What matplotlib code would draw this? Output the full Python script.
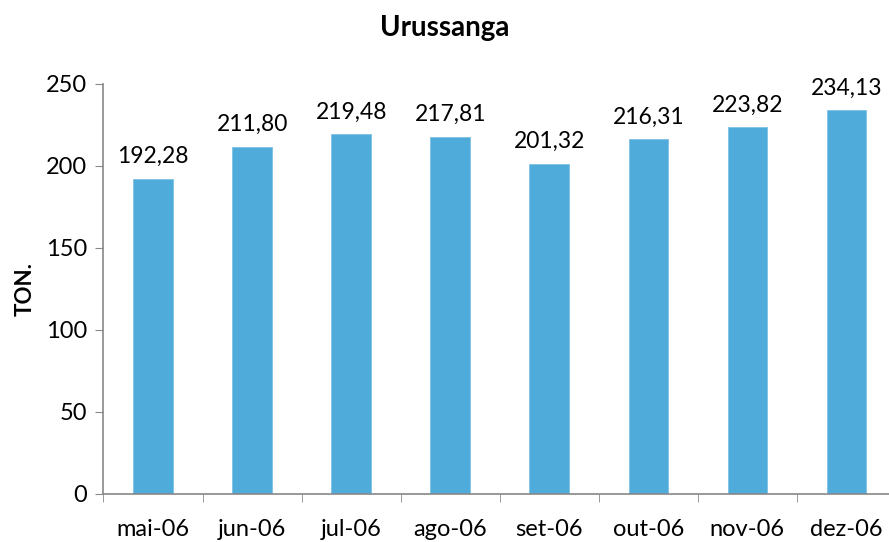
import matplotlib.pyplot as plt
import numpy as np

plt.rcParams['font.family'] = ['Lato', 'DejaVu Sans']

months = ['mai-06', 'jun-06', 'jul-06', 'ago-06', 'set-06', 'out-06', 'nov-06', 'dez-06']
values = [192.28, 211.80, 219.48, 217.81, 201.32, 216.31, 223.82, 234.13]

fig = plt.figure(figsize=(8.89, 5.42), dpi=100)
ax = fig.add_axes([0.1164, 0.0886, 0.8915, 0.7565])

x = np.arange(len(months))
ax.bar(x, values, width=0.4, color='#4FACDA', edgecolor='#7EC3E6', linewidth=0.6, zorder=2)

for xi, v in zip(x, values):
    ax.text(xi, v + 7, f'{v:.2f}'.replace('.', ','), ha='center', va='bottom', fontsize=16.5)

ax.set_xlim(-0.5, len(months) - 0.5)
ax.set_ylim(0, 250)
ax.set_yticks(range(0, 251, 50))
ax.set_xticks(x)
ax.set_xticklabels(months)
ax.set_xticks(np.arange(-0.5, len(months), 1), minor=True)
ax.tick_params(axis='x', which='major', length=0, pad=18, labelsize=17)
ax.tick_params(axis='x', which='minor', length=6, color='#888888', direction='out')
ax.tick_params(axis='y', length=6, color='#888888', labelsize=17, pad=6)

for side in ['top', 'right']:
    ax.spines[side].set_visible(False)
for side in ['left', 'bottom']:
    ax.spines[side].set_color('#888888')
    ax.spines[side].set_linewidth(1.2)

ax.set_ylabel('TON.', fontsize=16, fontweight='bold', labelpad=7)
fig.text(0.5, 0.948, 'Urussanga', ha='center', va='center', fontsize=20, fontweight='bold')

fig.savefig('out.png', dpi=100)
